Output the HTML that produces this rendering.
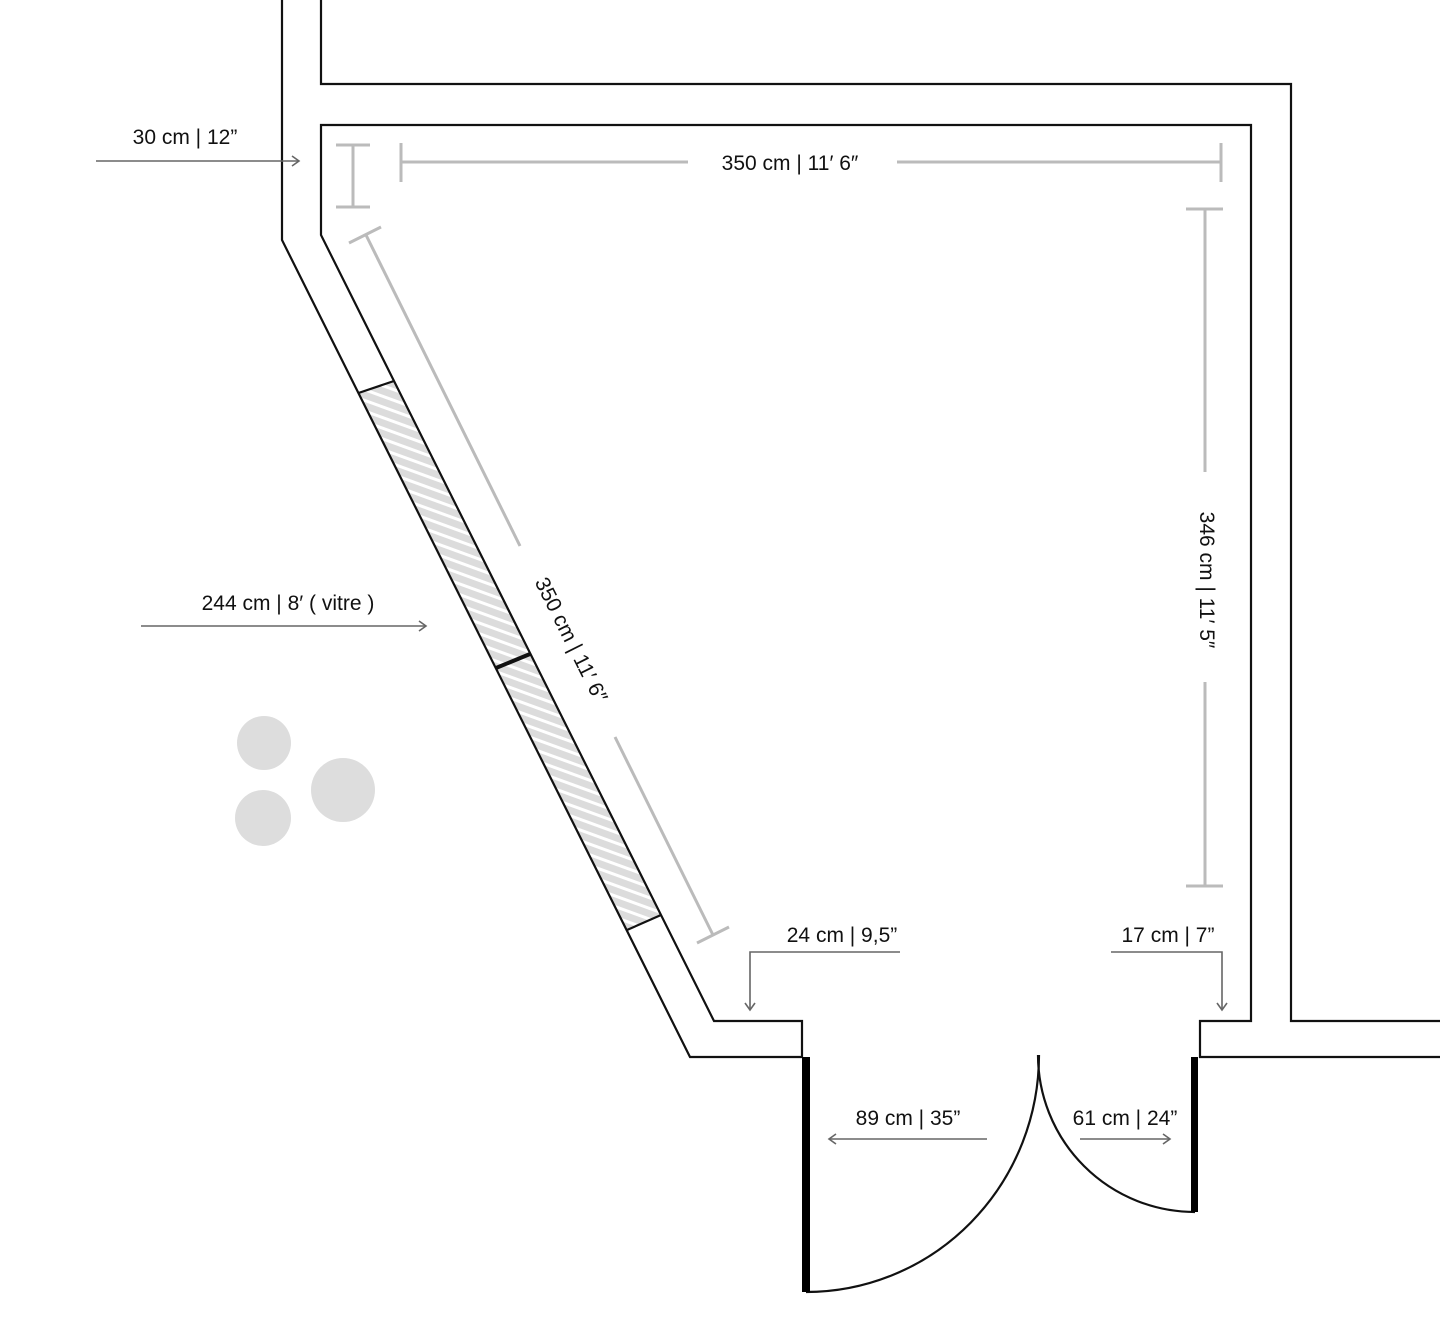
<!DOCTYPE html>
<html><head><meta charset="utf-8"><style>
html,body{margin:0;padding:0;background:#fff;width:1440px;height:1333px;overflow:hidden}
text{font-family:"Liberation Sans",sans-serif;font-size:21px;fill:#111}
</style></head><body>
<svg width="1440" height="1333" viewBox="0 0 1440 1333" xmlns="http://www.w3.org/2000/svg">
<defs>
<pattern id="h" width="10" height="10" patternUnits="userSpaceOnUse" patternTransform="rotate(20)">
<rect width="10" height="10" fill="#dcdcdc"/><rect y="0" width="10" height="3" fill="#fff"/>
</pattern>
<marker id="a" markerWidth="12" markerHeight="12" refX="10" refY="6" orient="auto" markerUnits="userSpaceOnUse">
<path d="M3,1 L10,6 L3,11" fill="none" stroke="#666" stroke-width="1.6"/>
</marker>
</defs>
<circle cx="264" cy="743" r="27" fill="#ddd"/>
<circle cx="343" cy="790" r="32" fill="#ddd"/>
<circle cx="263" cy="818" r="28" fill="#ddd"/>
<polygon points="358.5,393 394,381 661,915 627,930" fill="url(#h)"/>
<g fill="none" stroke="#111" stroke-width="2.2">
<polyline points="282,0 282,240 690,1057 802,1057"/>
<polyline points="321,0 321,84 1291,84 1291,1021 1440,1021"/>
<polyline points="802,1057 802,1021 714,1021 321,235 321,125 1251,125 1251,1021 1200,1021 1200,1057 1440,1057"/>
<line x1="358.5" y1="393" x2="394" y2="381"/>
<line x1="627" y1="930" x2="661" y2="915"/>
<line x1="496" y1="668" x2="530" y2="654" stroke-width="4"/>
<path d="M1039,1055 A233,237 0 0 1 806,1292"/>
<path d="M1038,1055 A157,157 0 0 0 1195,1212"/>
</g>
<rect x="802" y="1057" width="8" height="235" fill="#000"/>
<rect x="1191" y="1057" width="7" height="155" fill="#000"/>
<g stroke="#bbb" stroke-width="3" fill="none">
<line x1="353" y1="145" x2="353" y2="207"/><line x1="336" y1="145" x2="370" y2="145"/><line x1="336" y1="207" x2="370" y2="207"/>
<line x1="401" y1="162" x2="688" y2="162"/><line x1="897" y1="162" x2="1221" y2="162"/>
<line x1="401" y1="143" x2="401" y2="182"/><line x1="1221" y1="143" x2="1221" y2="182"/>
<line x1="1205" y1="209" x2="1205" y2="472"/><line x1="1205" y1="682" x2="1205" y2="886"/>
<line x1="1186" y1="209" x2="1223" y2="209"/><line x1="1186" y1="886" x2="1223" y2="886"/>
<line x1="366" y1="235" x2="520" y2="546"/><line x1="615" y1="737" x2="713" y2="935"/>
<line x1="349" y1="243" x2="381" y2="227"/><line x1="697" y1="943" x2="729" y2="927"/>
</g>
<text x="790" y="170" text-anchor="middle">350 cm | 11′ 6″</text>
<text transform="translate(1200,580) rotate(90)" text-anchor="middle">346 cm | 11′ 5″</text>
<text transform="translate(565,643) rotate(63.4)" text-anchor="middle">350 cm | 11′ 6″</text>
<g stroke="#666" stroke-width="1.6" fill="none" marker-end="url(#a)">
<line x1="96" y1="161" x2="299" y2="161"/>
<line x1="141" y1="626" x2="426" y2="626"/>
<polyline points="900,952 750,952 750,1010"/>
<polyline points="1111,952 1222,952 1222,1010"/>
<line x1="987" y1="1139" x2="829" y2="1139"/>
<line x1="1080" y1="1139" x2="1170" y2="1139"/>
</g>
<text x="185" y="144" text-anchor="middle">30 cm | 12”</text>
<text x="288" y="610" text-anchor="middle">244 cm | 8′ ( vitre )</text>
<text x="842" y="942" text-anchor="middle">24 cm | 9,5”</text>
<text x="1168" y="942" text-anchor="middle">17 cm  | 7”</text>
<text x="908" y="1125" text-anchor="middle">89 cm | 35”</text>
<text x="1125" y="1125" text-anchor="middle">61 cm | 24”</text>
</svg>
</body></html>
